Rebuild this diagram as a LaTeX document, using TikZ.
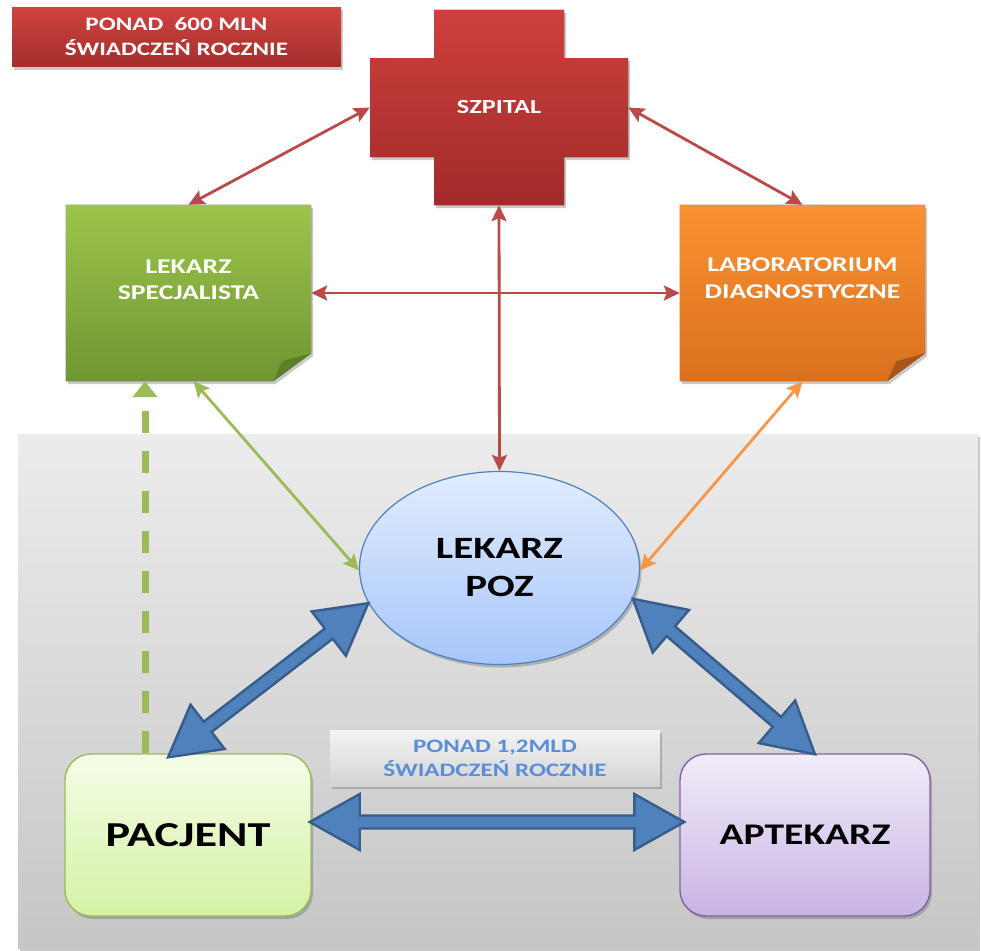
\documentclass[tikz,border=0pt]{standalone}
\usepackage{fontspec}
\setmainfont{Carlito}[FakeStretch=1.32]
\usetikzlibrary{shapes.geometric, arrows.meta, shadows, calc}

\definecolor{titletop}{HTML}{D04340}
\definecolor{titlebot}{HTML}{A42E2C}
\definecolor{crosstop}{HTML}{CD403D}
\definecolor{crossbot}{HTML}{A12B29}
\definecolor{spectop}{HTML}{9DC54B}
\definecolor{specbot}{HTML}{6F9632}
\definecolor{specfold}{HTML}{5E7F28}
\definecolor{labtop}{HTML}{FA9233}
\definecolor{labbot}{HTML}{D9701E}
\definecolor{labfold}{HTML}{A9561A}
\definecolor{paneltop}{HTML}{ECECEC}
\definecolor{panelbot}{HTML}{C6C6C6}
\definecolor{poztop}{HTML}{E1ECFE}
\definecolor{pozbot}{HTML}{A7C6FA}
\definecolor{pozline}{HTML}{4F81BD}
\definecolor{pactop}{HTML}{F4FDE8}
\definecolor{pacbot}{HTML}{D5F2A3}
\definecolor{pacline}{HTML}{9BBB59}
\definecolor{apttop}{HTML}{F1ECF9}
\definecolor{aptbot}{HTML}{C9B4E4}
\definecolor{aptline}{HTML}{8064A2}
\definecolor{notetop}{HTML}{F3F3F3}
\definecolor{notebot}{HTML}{D4D4D4}
\definecolor{notetext}{HTML}{5A8FD8}
\definecolor{linkred}{HTML}{B94A47}
\definecolor{linkgreen}{HTML}{9BBB59}
\definecolor{linkorange}{HTML}{F79646}
\definecolor{blockfill}{HTML}{4F81BD}
\definecolor{blockedge}{HTML}{385D8A}

% geometry of the wide two-headed arrows
\def\bhl{50}\def\bhw{28}\def\bsw{6.5}
\newcommand\blockarrow[2]{%
  \path let \p1=#1, \p2=#2,
      \n1={atan2(\y2-\y1,\x2-\x1)}, \n2={veclen(\x2-\x1,\y2-\y1)} in
    \pgfextra{\xdef\baang{\n1}\xdef\bax{\x1}\xdef\bay{\y1}%
      \pgfmathsetmacro\balen{\n2}\xdef\balen{\balen}%
      \pgfmathsetmacro\babase{\n2-\bhl}\xdef\babase{\babase}};
  \draw[widearrow, shift={(\bax,\bay)}, rotate=\baang]
    (0pt,0pt) -- (\bhl pt,\bhw pt) -- (\bhl pt,\bsw pt) -- (\babase pt,\bsw pt)
    -- (\babase pt,\bhw pt) -- (\balen pt,0pt) -- (\babase pt,-\bhw pt)
    -- (\babase pt,-\bsw pt) -- (\bhl pt,-\bsw pt) -- (\bhl pt,-\bhw pt) -- cycle;
}

\tikzset{
  softshadow/.style={drop shadow={shadow xshift=2pt, shadow yshift=-3pt, opacity=0.3, fill=black!70}},
  whitetxt/.style={text=white, align=center, inner sep=0pt},
  blacktxt/.style={text=black, align=center, inner sep=0pt},
  thinlink/.style={line width=2.8pt, {Stealth[length=16pt,width=15pt,inset=3pt]}-{Stealth[length=16pt,width=15pt,inset=3pt]}},
  widearrow/.style={fill=blockfill, draw=blockedge, line width=2.4pt, line join=miter},
}

\begin{document}
\begin{tikzpicture}[x=1pt,y=-1pt]
\useasboundingbox (0,0) rectangle (981,950);

% grey background panel
\node[softshadow, top color=paneltop, bottom color=panelbot, minimum width=960pt, minimum height=514pt, inner sep=0pt] (panel) at (498,691) {};

% headline box
\node[softshadow, top color=titletop, bottom color=titlebot, minimum width=329pt, minimum height=59pt, inner sep=0pt,
      whitetxt, font=\bfseries\fontsize{19}{25}\selectfont] (total) at (176.5,37) {PONAD\ \ 600 MLN\\ŚWIADCZEŃ ROCZNIE};

% hospital cross
\fill[softshadow, top color=crosstop, bottom color=crossbot]
  (434,10) -- (564,10) -- (564,58) -- (628,58) -- (628,157) -- (564,157) -- (564,205)
  -- (434,205) -- (434,157) -- (370,157) -- (370,58) -- (434,58) -- cycle;
\node[whitetxt, minimum width=258pt, minimum height=195pt, font=\bfseries\fontsize{20}{24}\selectfont] (szpital) at (499,107.5) {SZPITAL};

% specialist note with folded corner
\node[minimum width=245pt, minimum height=176pt, inner sep=0pt] (spec) at (188.5,293) {};
\fill[softshadow, top color=spectop, bottom color=specbot]
  (spec.north west) -- (spec.north east) -- ([yshift=28pt]spec.south east)
  -- ([xshift=-38pt]spec.south east) -- (spec.south west) -- cycle;
\fill[specfold] ([yshift=28pt]spec.south east) -- ([xshift=-29pt,yshift=20pt]spec.south east)
  -- ([xshift=-38pt]spec.south east) -- cycle;
\node[whitetxt, font=\bfseries\fontsize{21}{26}\selectfont] (spectext) at ([yshift=13pt]spec.center) {LEKARZ\\SPECJALISTA};

% laboratory note with folded corner
\node[minimum width=245pt, minimum height=176pt, inner sep=0pt] (lab) at (802.5,293) {};
\fill[softshadow, top color=labtop, bottom color=labbot]
  (lab.north west) -- (lab.north east) -- ([yshift=28pt]lab.south east)
  -- ([xshift=-38pt]lab.south east) -- (lab.south west) -- cycle;
\fill[labfold] ([yshift=28pt]lab.south east) -- ([xshift=-29pt,yshift=20pt]lab.south east)
  -- ([xshift=-38pt]lab.south east) -- cycle;
\node[whitetxt, font=\bfseries\fontsize{21}{27}\selectfont] (labtext) at ([yshift=15pt]lab.center) {LABORATORIUM\\DIAGNOSTYCZNE};

% family doctor
\node[ellipse, softshadow, draw=pozline, line width=1.2pt, top color=poztop, bottom color=pozbot,
      minimum width=280pt, minimum height=193pt, inner sep=0pt,
      blacktxt, font=\bfseries\fontsize{31}{38}\selectfont] (poz) at (499.5,568) {LEKARZ\\POZ};

% patient and pharmacist
\node[softshadow, draw=pacline, line width=1.4pt, rounded corners=26pt, top color=pactop, bottom color=pacbot,
      minimum width=246pt, minimum height=162pt, inner sep=0pt,
      blacktxt, font=\bfseries\fontsize{35}{40}\selectfont] (pacjent) at (188,835) {PACJENT};
\node[softshadow, draw=aptline, line width=1.4pt, rounded corners=26pt, top color=apttop, bottom color=aptbot,
      minimum width=250pt, minimum height=162pt, inner sep=0pt,
      blacktxt, font=\bfseries\fontsize{30}{36}\selectfont] (aptekarz) at (805,835) {APTEKARZ};

% yearly services note
\node[softshadow, top color=notetop, bottom color=notebot, minimum width=330pt, minimum height=56pt, inner sep=0pt,
      text=notetext, align=center, font=\bfseries\fontsize{19}{24}\selectfont] (uslugi) at (495,758) {PONAD 1,2MLD\\ŚWIADCZEŃ ROCZNIE};

% thin two-way links
\draw[thinlink, draw=linkred, fill=linkred] (szpital.west) -- (spec.north);
\draw[thinlink, draw=linkred, fill=linkred] (szpital.east) -- (lab.north);
\draw[thinlink, draw=linkred, fill=linkred] (szpital.south) -- (poz.north);
\draw[thinlink, draw=linkred, fill=linkred] (spec.east) -- (lab.west);
\draw[thinlink, draw=linkgreen, fill=linkgreen] ([xshift=5pt]spec.south) -- (poz.181);
\draw[thinlink, draw=linkorange, fill=linkorange] (lab.south) -- (poz.359);

% referral from patient to specialist
\coordinate (dashx) at (145,0);
\draw[draw=linkgreen, line width=7pt, dash pattern=on 22pt off 18pt, -{Triangle[length=16pt,width=24pt]}]
  (pacjent.north -| dashx) -- (spec.south -| dashx);

% wide two-way arrows
\blockarrow{([xshift=-20pt,yshift=-4pt]pacjent.north)}{(poz.195)}
\blockarrow{(poz.347)}{([xshift=10pt,yshift=-1pt]aptekarz.north)}
\blockarrow{([xshift=-2pt,yshift=13pt]pacjent.east)}{([xshift=5pt,yshift=13pt]aptekarz.west)}
\end{tikzpicture}
\end{document}
